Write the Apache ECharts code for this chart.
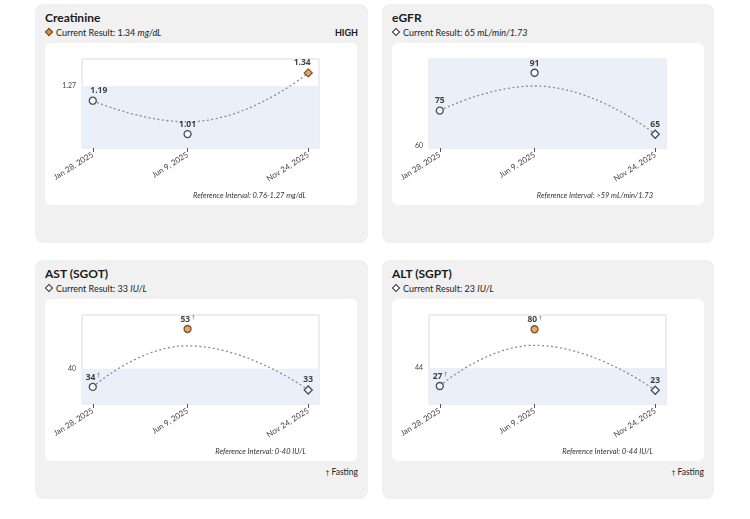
<!DOCTYPE html>
<html>
<head>
<meta charset="utf-8">
<script src="https://cdn.jsdelivr.net/npm/echarts@6/dist/echarts.min.js"></script>
<style>
  body { margin: 0; width: 750px; height: 519px; background: #fff; font-family: Lato, "Noto Sans", sans-serif; color: #1a1a1a; position: relative; overflow: hidden; }
  .card { position: absolute; width: 333px; height: 239px; background: #f1f1f1; border-radius: 8px; }
  .title { position: absolute; left: 10px; top: 6px; font-size: 12px; font-weight: bold; line-height: 16px; }
  .current { position: absolute; left: 10px; top: 23px; font-size: 9px; line-height: 12px; color: #222; }
  .current i { font-style: italic; }
  .dot { display: inline-block; width: 4px; height: 4px; border: 1px solid #333; background: #fff; transform: rotate(45deg); margin: 0 4px 1px 1px; }
  .dot.high { background: #e38f3f; border-color: #6a4420; }
  .flag { position: absolute; right: 10px; top: 23px; font-size: 9px; line-height: 12px; font-weight: bold; }
  .inner { position: absolute; left: 10px; top: 39px; width: 312px; height: 162px; background: #fff; border-radius: 6px; }
  .fasting { position: absolute; right: 10px; top: 206px; font-size: 8.5px; line-height: 12px; color: #222; }
  .fasting span { font-family: "DejaVu Sans", sans-serif; font-size: 7px; color: #333; }
</style>
</head>
<body>
<div class="card" style="left:35px; top:4px;">
  <div class="title">Creatinine</div>
  <div class="current"><span class="dot high"></span>Current Result: 1.34 <i>mg/dL</i></div>
  <div class="flag">HIGH</div>
  <div class="inner" id="c1"></div>
</div>
<div class="card" style="left:382px; top:4px; width:332px;">
  <div class="title">eGFR</div>
  <div class="current"><span class="dot"></span>Current Result: 65 <i>mL/min/1.73</i></div>
  <div class="inner" id="c2"></div>
</div>
<div class="card" style="left:35px; top:260px;">
  <div class="title">AST (SGOT)</div>
  <div class="current"><span class="dot"></span>Current Result: 33 <i>IU/L</i></div>
  <div class="inner" id="c3"></div>
  <div class="fasting"><span>†</span> Fasting</div>
</div>
<div class="card" style="left:382px; top:260px; width:332px;">
  <div class="title">ALT (SGPT)</div>
  <div class="current"><span class="dot"></span>Current Result: 23 <i>IU/L</i></div>
  <div class="inner" id="c4"></div>
  <div class="fasting"><span>†</span> Fasting</div>
</div>

<script>
// test dates, same for every panel
const dates = ['2025-01-28', '2025-06-09', '2025-11-24'];
const dateLabels = ['Jan 28, 2025', 'Jun 9, 2025', 'Nov 24, 2025'];

const creatinine = [1.19, 1.01, 1.34];
const creatinineTrend = [1.19, 1.076, 1.34];
const creatinineHigh = [false, false, true];
const creatinineRef = [0.76, 1.27];

const egfr = [75, 91, 65];
const egfrTrend = [75, 85.4, 65];
const egfrHigh = [false, false, false];
const egfrRef = [59, null];

const ast = [34, 53, 33];
const astTrend = [34, 47.5, 33];
const astHigh = [false, true, false];
const astFasting = [true, true, false];
const astRef = [0, 40];

const alt = [27, 80, 23];
const altTrend = [27, 65, 23];
const altHigh = [false, true, false];
const altFasting = [true, true, false];
const altRef = [0, 44];

// dates go on a plain value axis as timestamps, so ticks can sit exactly on the test days
const ts = d => +new Date(d + 'T00:00:00');
const dateTs = dates.map(ts);
const diamond = 'path://M0,-1 L1,0 L0,1 L-1,0 Z';

function drawPanel(id, cfg) {
  const chart = echarts.init(document.getElementById(id));
  const last = cfg.values.length - 1;

  const points = cfg.values.map((v, i) => ({
    value: [dateTs[i], v],
    symbol: i === last ? diamond : 'circle',
    symbolSize: i === last ? 8 : 7,
    itemStyle: cfg.high[i]
      ? { color: '#e38f3f', borderColor: '#5b3a1c', borderWidth: 1.3 }
      : { color: '#fff', borderColor: '#222', borderWidth: 1.3 },
    label: { offset: cfg.labelOffset ? [cfg.labelOffset[i], 0] : [0, 0] },
    fasting: cfg.fasting ? cfg.fasting[i] : false
  }));

  // band for the reference interval, clamped to the axis
  const lo = cfg.ref[0] == null ? cfg.min : Math.max(cfg.ref[0], cfg.min);
  const hi = cfg.ref[1] == null ? cfg.max : Math.min(cfg.ref[1], cfg.max);

  chart.setOption({
    animation: false,
    grid: {
      left: 37, right: 38, top: 16, bottom: 57,
      show: true, backgroundColor: '#fff', borderColor: '#dcdcdc', borderWidth: 1
    },
    xAxis: {
      type: 'value',
      min: ts('2025-01-13'),
      max: ts('2025-12-09'),
      axisLine: { show: false },
      splitLine: { show: false },
      axisTick: { show: true, customValues: dateTs, length: 4, lineStyle: { color: '#555' } },
      axisLabel: {
        customValues: dateTs,
        rotate: 32,
        fontSize: 8,
        color: '#444',
        margin: 6,
        fontFamily: 'Lato',
        formatter: val => dateLabels[dateTs.indexOf(val)] || ''
      }
    },
    yAxis: {
      type: 'value',
      min: cfg.min,
      max: cfg.max,
      axisLine: { show: false },
      axisTick: { show: false },
      splitLine: { show: false },
      axisLabel: {
        customValues: [cfg.tick],
        fontSize: 7,
        color: '#444',
        margin: 6,
        fontFamily: 'Lato'
      }
    },
    series: [
      {
        type: 'line',
        data: cfg.trend.map((v, i) => [dateTs[i], v]),
        smooth: 0.5,
        symbol: 'none',
        silent: true,
        lineStyle: { color: '#8c8c8c', width: 1.3, type: [2, 2.5] },
        markArea: {
          silent: true,
          itemStyle: { color: '#e9f0f9' },
          data: [[{ yAxis: lo }, { yAxis: hi }]]
        },
        z: 2
      },
      {
        type: 'scatter',
        data: points,
        z: 5,
        label: {
          show: true,
          position: 'top',
          distance: 1,
          formatter: p => '{v|' + p.value[1] + '}' + (p.data.fasting ? '{d|†}' : ''),
          rich: {
            v: { fontSize: 8.5, fontWeight: 'bold', color: '#111', fontFamily: 'Noto Sans' },
            d: { fontSize: 6, color: '#555', verticalAlign: 'top', padding: [0, 0, 0, 1.5], fontFamily: 'DejaVu Sans' }
          }
        }
      }
    ],
    graphic: [{
      type: 'text',
      right: 51,
      top: 149,
      style: {
        text: 'Reference Interval: ' + cfg.refText,
        font: 'italic 7.5px Lato',
        fill: '#333'
      }
    }]
  });
}

drawPanel('c1', {
  values: creatinine, trend: creatinineTrend, high: creatinineHigh,
  ref: creatinineRef, refText: '0.76-1.27 mg/dL',
  min: 0.935, max: 1.415, tick: 1.27, labelOffset: [6, 0, -6]
});
drawPanel('c2', {
  values: egfr, trend: egfrTrend, high: egfrHigh,
  ref: egfrRef, refText: '>59 mL/min/1.73',
  min: 59.2, max: 96.8, tick: 60
});
drawPanel('c3', {
  values: ast, trend: astTrend, high: astHigh, fasting: astFasting,
  ref: astRef, refText: '0-40 IU/L',
  min: 28.4, max: 57.6, tick: 40
});
drawPanel('c4', {
  values: alt, trend: altTrend, high: altHigh, fasting: altFasting,
  ref: altRef, refText: '0-44 IU/L',
  min: 10.2, max: 93.3, tick: 44
});
</script>
</body>
</html>
